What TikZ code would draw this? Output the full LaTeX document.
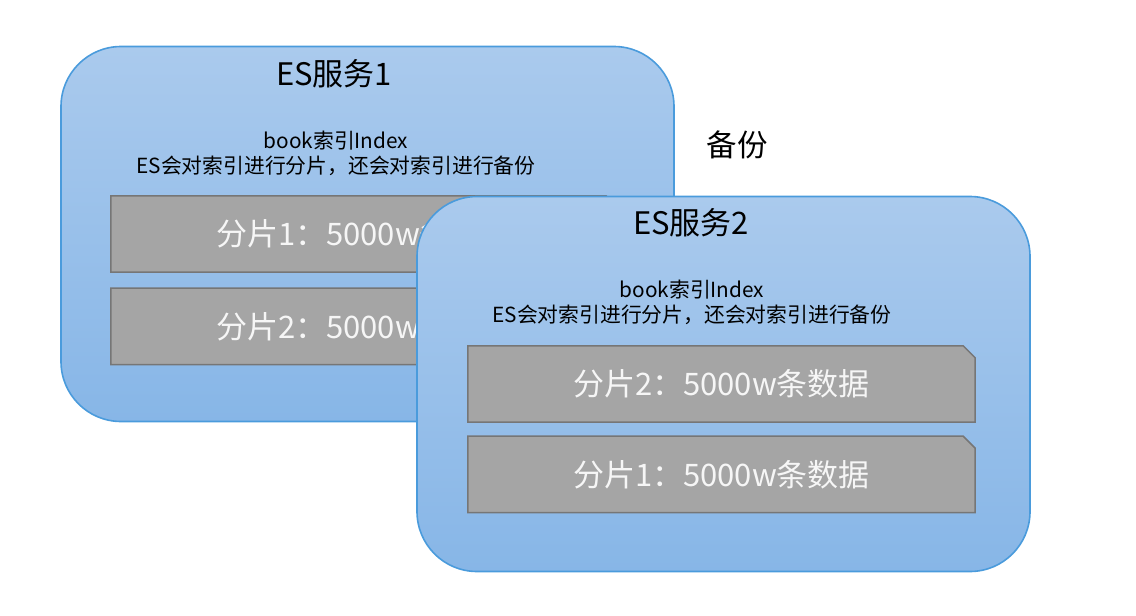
\documentclass[tikz,border=0pt]{standalone}
\usepackage{fontspec}
\setmainfont{Noto Sans CJK SC}
\usepackage{tikz}
\usetikzlibrary{positioning}
\definecolor{boxtop}{RGB}{170,202,237}
\definecolor{boxbottom}{RGB}{135,182,231}
\definecolor{boxline}{RGB}{74,155,220}
\definecolor{shardfill}{RGB}{165,165,165}
\definecolor{shardline}{RGB}{118,118,118}
\definecolor{shardtext}{RGB}{246,246,246}

\begin{document}
\begin{tikzpicture}[
    x=1pt,
    y=-1pt,
    node distance=16pt,
    server/.style={
        rounded corners=60pt,
        minimum width=613pt,
        minimum height=375pt,
        draw=boxline,
        line width=1.6pt,
        top color=boxtop,
        bottom color=boxbottom
    },
    title/.style={
        font=\fontsize{31}{36}\selectfont
    },
    info/.style={
        align=center,
        font=\fontsize{20.8}{25}\selectfont
    },
    shard/.style={
        minimum width=507pt,
        minimum height=76pt,
        inner sep=0pt,
        text=shardtext,
        font=\fontsize{31}{36}\selectfont
    },
    shardbox/.style={
        fill=shardfill,
        draw=shardline,
        line width=1.5pt
    }
]

\useasboundingbox (0,0) rectangle (1136,616);

% first server
\node[server] (es1) at (367.5,234) {};
\node[title] (es1title) at (334,74) {ES服务1};
\node[info] (es1info) at (336,153) {book索引Index\\ES会对索引进行分片，还会对索引进行备份};

\node[shard] (s11) at (364.5,234) {};
\node[shard, below=of s11] (s12) {};
\foreach \s in {s11,s12} {
    \draw[shardbox] (\s.south west) |- ([xshift=-12pt]\s.north east)
        -- ([yshift=-12pt]\s.north east) |- cycle;
}
\node[shard] at (s11) {分片1：5000w条数据};
\node[shard] at (s12) {分片2：5000w条数据};

% second server
\node[server] (es2) at (723.5,384) {};
\node[title] (es2title) at (691,223) {ES服务2};
\node[info] (es2info) at (692,302) {book索引Index\\ES会对索引进行分片，还会对索引进行备份};

\node[shard] (s21) at (721.5,384) {};
\node[shard, below=14pt of s21] (s22) {};
\foreach \s in {s21,s22} {
    \draw[shardbox] (\s.south west) |- ([xshift=-12pt]\s.north east)
        -- ([yshift=-12pt]\s.north east) |- cycle;
}
\node[shard] at (s21) {分片2：5000w条数据};
\node[shard] at (s22) {分片1：5000w条数据};

\node[title, font=\fontsize{30.5}{36}\selectfont] (backup) at (737,145) {备份};

\end{tikzpicture}
\end{document}
